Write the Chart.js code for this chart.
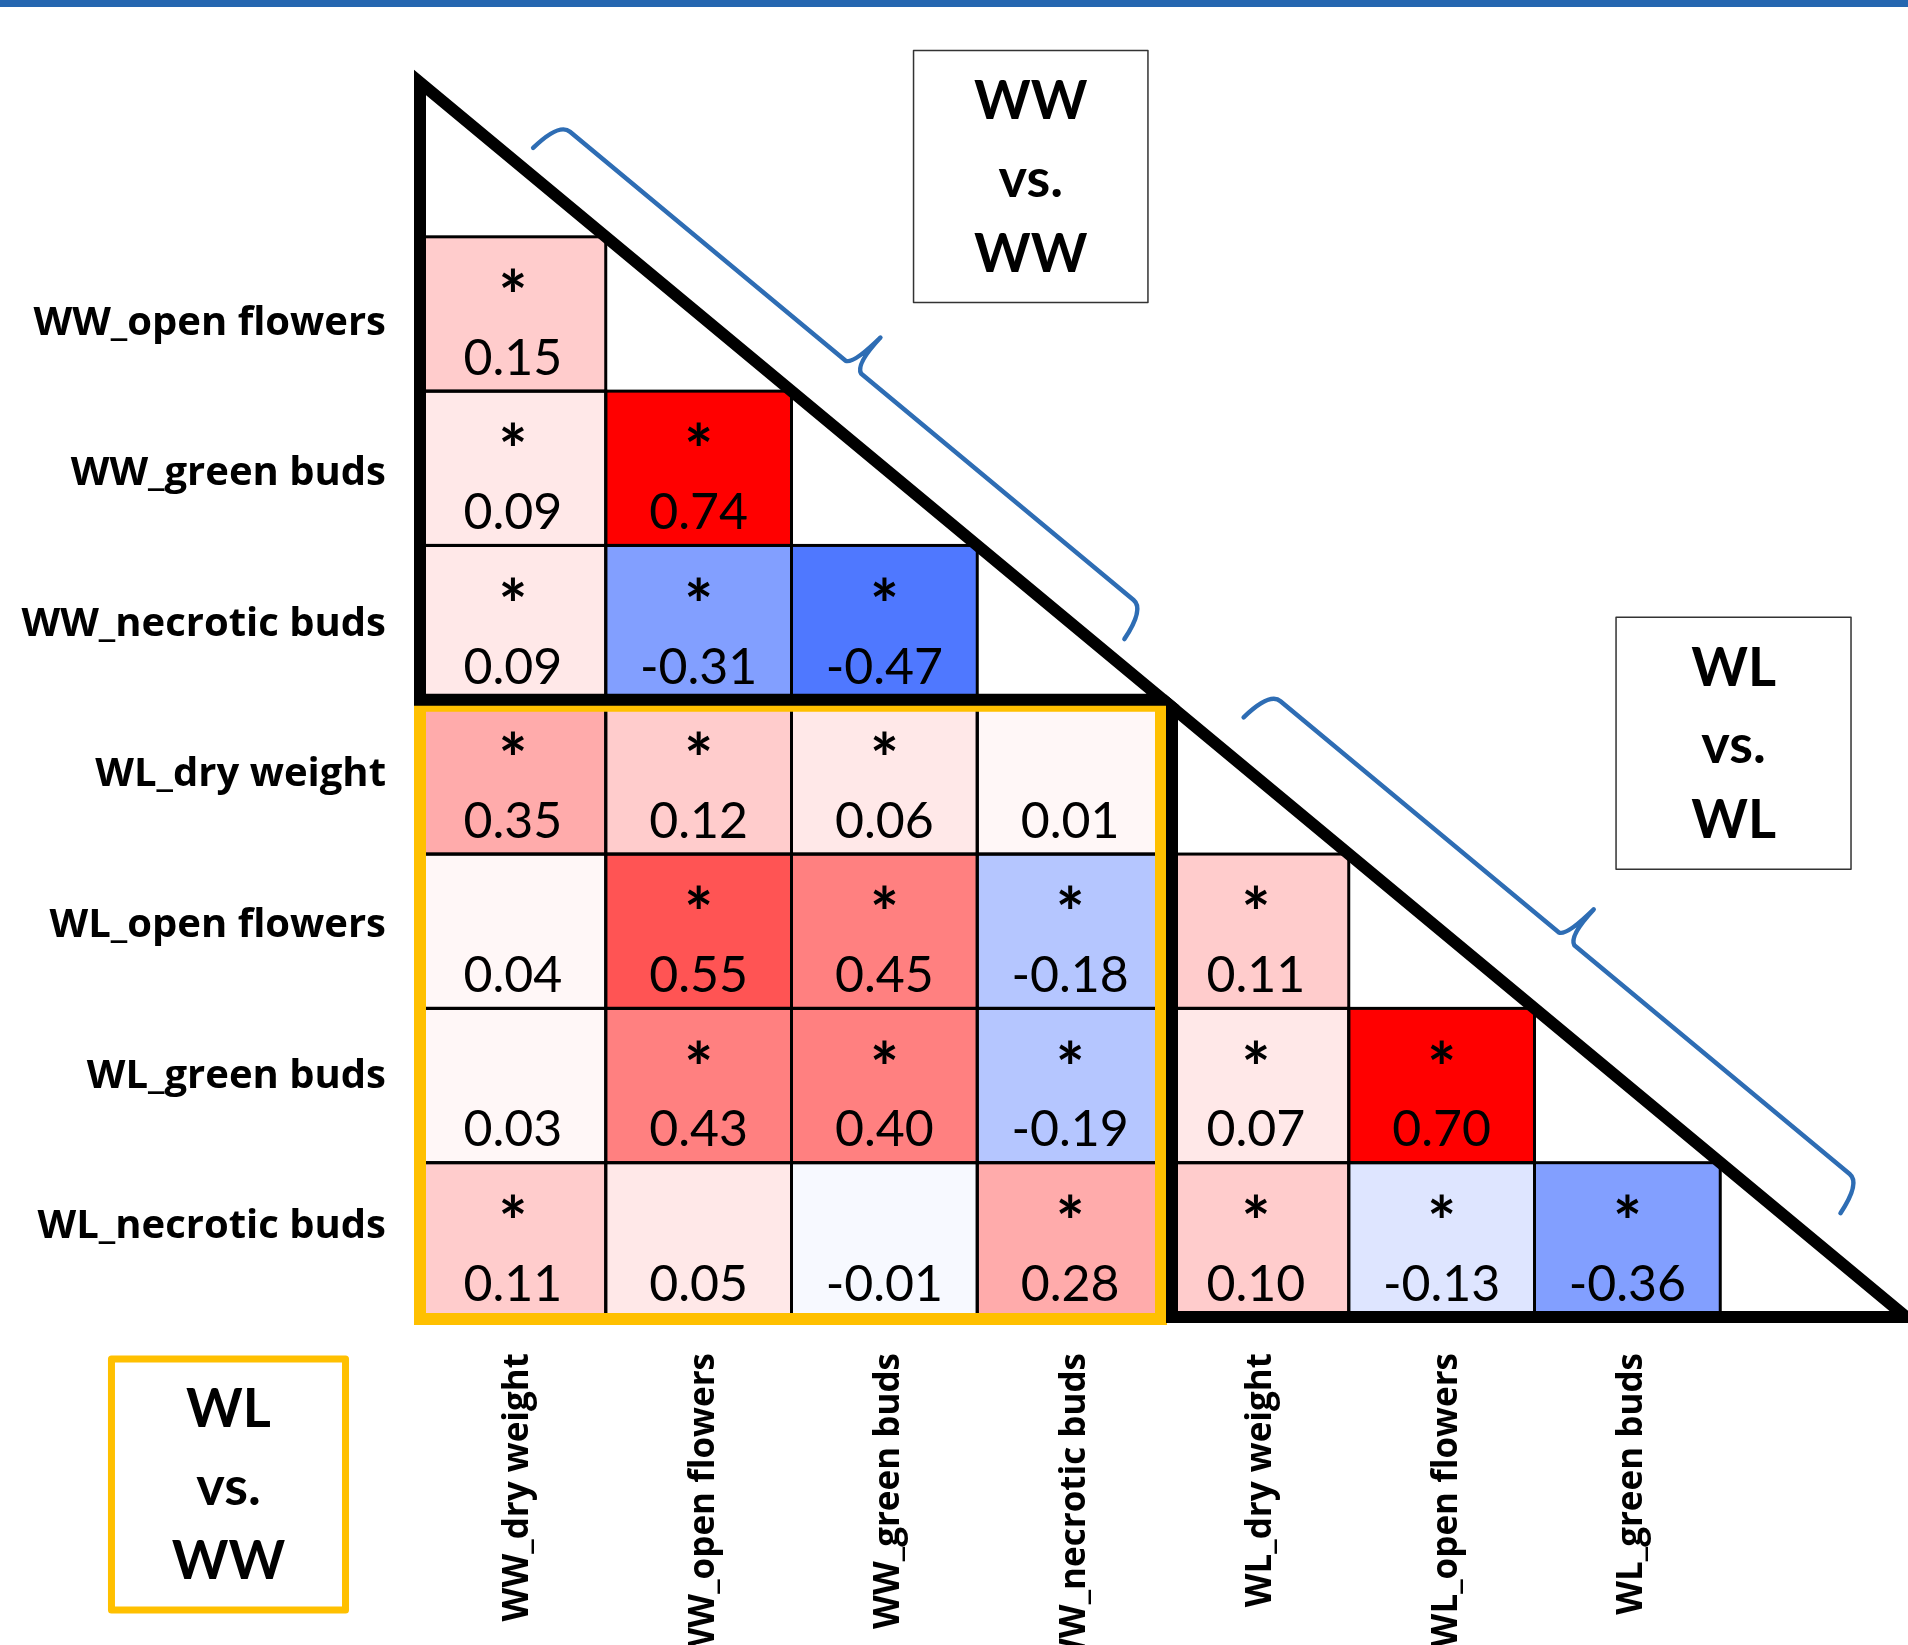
<!DOCTYPE html>
<html lang="en">
<head>
<meta charset="UTF-8">
<title>Trait correlations WW / WL</title>
<style>
  html, body { margin: 0; padding: 0; background: #fff; overflow: hidden; }
  .container { position: relative; width: 1908px; height: 1645px; }
</style>
</head>
<body>
<div class="container"><canvas id="corr-chart"></canvas></div>

<script src="https://cdn.jsdelivr.net/npm/chart.js"></script>
<script>
// traits on the rows (top to bottom) and on the columns (left to right)
const rowLabels = ['WW_open flowers', 'WW_green buds', 'WW_necrotic buds', 'WL_dry weight',
                   'WL_open flowers', 'WL_green buds', 'WL_necrotic buds'];
const colLabels = ['WW_dry weight', 'WW_open flowers', 'WW_green buds', 'WW_necrotic buds',
                   'WL_dry weight', 'WL_open flowers', 'WL_green buds'];

// lower-triangle correlation coefficients, one array per row
const corr = [
    [0.15],
    [0.09, 0.74],
    [0.09, -0.31, -0.47],
    [0.35, 0.12, 0.06, 0.01],
    [0.04, 0.55, 0.45, -0.18, 0.11],
    [0.03, 0.43, 0.40, -0.19, 0.07, 0.70],
    [0.11, 0.05, -0.01, 0.28, 0.10, -0.13, -0.36]
];
// 1 = significant (marked with *)
const signif = [
    [1],
    [1, 1],
    [1, 1, 1],
    [1, 1, 1, 0],
    [0, 1, 1, 1, 1],
    [0, 1, 1, 1, 1, 1],
    [1, 0, 0, 1, 1, 1, 1]
];

// stepped diverging scale: white -> red for positive, white -> blue for negative
function cellColor(v) {
    const a = Math.abs(v);
    if (v >= 0) {
        const f = a >= 0.65 ? 1 : a >= 0.5 ? 0.67 : a >= 0.38 ? 0.5 : a >= 0.25 ? 0.33 :
                  a >= 0.1 ? 0.2 : a >= 0.05 ? 0.09 : 0.03;
        const g = Math.round(255 * (1 - f));
        return `rgb(255,${g},${g})`;
    }
    const f = a >= 0.45 ? 0.69 : a >= 0.3 ? 0.49 : a >= 0.15 ? 0.29 : a >= 0.1 ? 0.13 : 0.03;
    return `rgb(${Math.round(255 * (1 - f))},${Math.round(255 * (1 - 0.77 * f))},255)`;
}

// one floating-bar dataset per column, each bar spans [c, c+1] on the x axis
const datasets = colLabels.map((name, c) => ({
    label: name,
    data: [null, ...corr.map(row => row[c] === undefined ? null : [c, c + 1])],
    backgroundColor: ctx => {
        const row = corr[ctx.dataIndex - 1];
        return row && row[c] !== undefined ? cellColor(row[c]) : 'rgba(0,0,0,0)';
    },
    borderWidth: 0,
    grouped: false,
    categoryPercentage: 1,
    barPercentage: 1
}));

function brace(ctx, a, b, off, hook, cusp) {
    const dx = b.x - a.x, dy = b.y - a.y, len = Math.hypot(dx, dy);
    const ux = dx / len, uy = dy / len, nx = uy, ny = -ux;
    const at = (s, t) => [a.x + ux * s + nx * (off + t), a.y + uy * s + ny * (off + t)];
    const m = len / 2;
    ctx.beginPath();
    ctx.moveTo(...at(-4, -hook));
    ctx.quadraticCurveTo(...at(0, 0), ...at(14, 0));
    ctx.lineTo(...at(m - 8, 0));
    ctx.quadraticCurveTo(...at(m, 2), ...at(m + 4, cusp));
    ctx.quadraticCurveTo(...at(m + 2, 4), ...at(m + 12, 0));
    ctx.lineTo(...at(len - 14, 0));
    ctx.quadraticCurveTo(...at(len, 0), ...at(len + 4, -hook));
    ctx.stroke();
}

function textBox(ctx, box, px, py) {
    const x0 = px(box.x0), x1 = px(box.x1), y0 = py(box.e0), y1 = py(box.e1);
    ctx.save();
    ctx.strokeStyle = box.color;
    ctx.lineWidth = box.width;
    ctx.lineJoin = 'round';
    ctx.strokeRect(x0, y0, x1 - x0, y1 - y0);
    ctx.fillStyle = '#000';
    ctx.font = 'bold 54px Lato';
    ctx.textAlign = 'center';
    ctx.textBaseline = 'alphabetic';
    [0.195, 0.525, 0.80].forEach((f, i) => {
        const m = ctx.measureText(box.lines[i]);
        const cy = y0 + (y1 - y0) * f;
        ctx.fillText(box.lines[i], (x0 + x1) / 2, cy + (m.actualBoundingBoxAscent - m.actualBoundingBoxDescent) / 2);
    });
    ctx.restore();
}

const overlay = {
    id: 'overlay',
    afterDatasetsDraw(chart) {
        const ctx = chart.ctx;
        const xs = chart.scales.x, ys = chart.scales.y;
        const px = v => xs.getPixelForValue(v);
        const py = e => ys.getPixelForValue(e - 0.5);   // row edge -> pixel
        const colW = px(1) - px(0), rowH = py(1) - py(0);

        ctx.save();
        // header stripe
        ctx.fillStyle = '#2566B0';
        ctx.fillRect(0, 0, chart.width, 7);

        // cell outlines
        ctx.strokeStyle = '#000';
        ctx.lineWidth = 3;
        corr.forEach((row, r) => row.forEach((v, c) => {
            ctx.strokeRect(px(c), py(r + 1), colW, rowH);
        }));

        // coefficients and significance stars
        ctx.fillStyle = '#000';
        ctx.textAlign = 'center';
        ctx.textBaseline = 'alphabetic';
        corr.forEach((row, r) => row.forEach((v, c) => {
            const cx = px(c + 0.5), top = py(r + 1);
            ctx.font = '50px Lato';
            ctx.fillText(v.toFixed(2), cx, top + rowH * 0.895);
            if (signif[r][c]) {
                ctx.font = 'bold 68px Lato';
                const m = ctx.measureText('*');
                ctx.fillText('*', cx, top + rowH * 0.28 + (m.actualBoundingBoxAscent - m.actualBoundingBoxDescent) / 2);
            }
        }));

        // WL vs. WW block frame
        ctx.strokeStyle = '#FFC000';
        ctx.lineWidth = 12;
        ctx.lineJoin = 'miter';
        ctx.strokeRect(px(0), py(4) + 6, px(4) - 2 - px(0), py(8) - 4 - py(4));

        // the two within-treatment triangles
        ctx.strokeStyle = '#000';
        ctx.lineWidth = 12;
        ctx.beginPath();
        ctx.moveTo(px(0), py(0));
        ctx.lineTo(px(0), py(4));
        ctx.lineTo(px(4), py(4));
        ctx.closePath();
        ctx.stroke();
        const k = 4 + 9 / colW;   // lower triangle sits just right of the frame
        ctx.beginPath();
        ctx.moveTo(px(k), py(k));
        ctx.lineTo(px(k), py(8));
        ctx.lineTo(px(8), py(8));
        ctx.closePath();
        ctx.stroke();

        // braces along the diagonal
        const P = e => ({ x: px(e), y: py(e) });
        ctx.strokeStyle = '#2E6DB4';
        ctx.lineWidth = 4.5;
        ctx.lineJoin = 'round';
        ctx.lineCap = 'round';
        brace(ctx, P(0.55), P(3.7), 58, 36, 40);
        brace(ctx, P(4.32), P(7.5), 74, 36, 40);
        ctx.restore();

        // group captions
        const boxes = [
            { x0: 2.657, x1: 3.919, e0: -0.207, e1: 1.426, lines: ['WW', 'vs.', 'WW'], color: '#333', width: 1.5 },
            { x0: 6.439, x1: 7.704, e0: 3.465, e1: 5.098, lines: ['WL', 'vs.', 'WL'], color: '#333', width: 1.5 },
            { x0: -1.661, x1: -0.401, e0: 8.272, e1: 9.899, lines: ['WL', 'vs.', 'WW'], color: '#FFC000', width: 7 }
        ];
        boxes.forEach(b => textBox(ctx, b, px, py));
    }
};

const labelFont = size => ({ family: '"Open Sans"', size: size, weight: 'bold' });

new Chart(document.getElementById('corr-chart'), {
    type: 'bar',
    data: { labels: ['', ...rowLabels], datasets: datasets },
    options: {
        indexAxis: 'y',
        responsive: true,
        maintainAspectRatio: false,
        animation: false,
        layout: { padding: { top: 82.5, right: 2, left: 0, bottom: 0 } },
        plugins: { legend: { display: false }, tooltip: { enabled: false } },
        scales: {
            x: {
                type: 'linear',
                min: 0,
                max: 8,
                grid: { display: false, drawTicks: false },
                border: { display: false },
                afterBuildTicks: s => { s.ticks = colLabels.map((_, i) => ({ value: i + 0.5 })); },
                afterFit: s => { s.height = 328; },
                ticks: {
                    autoSkip: false,
                    minRotation: 90,
                    maxRotation: 90,
                    padding: 36,
                    labelOffset: 5,
                    color: '#000',
                    font: labelFont(35),
                    callback: (v, i) => colLabels[i]
                }
            },
            // row index axis used for the cells
            y: { type: 'category', display: false },
            // row names, set slightly tighter than the cell rows
            yl: {
                type: 'linear',
                position: 'left',
                reverse: true,
                offset: false,
                min: -0.6,
                max: 7.6,
                grid: { display: false, drawTicks: false, offset: false },
                border: { display: false },
                afterBuildTicks: s => { s.ticks = rowLabels.map((_, i) => ({ value: i + 1 })); },
                afterFit: s => { s.width = 420; },
                ticks: {
                    autoSkip: false,
                    padding: 34,
                    color: '#000',
                    font: labelFont(40),
                    callback: (v, i) => rowLabels[i]
                }
            }
        }
    },
    plugins: [overlay]
});
</script>
</body>
</html>
